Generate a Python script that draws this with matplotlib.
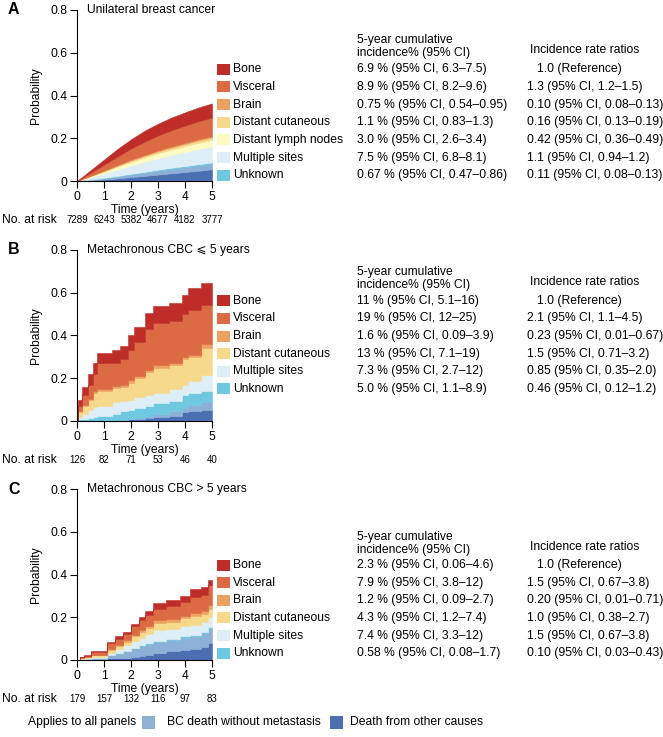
import matplotlib
matplotlib.use("Agg")
import matplotlib.pyplot as plt
import numpy as np
from matplotlib.patches import Rectangle

plt.rcParams["font.family"] = ["Liberation Sans", "DejaVu Sans"]

# ---- data ----
years = [0, 1, 2, 3, 4, 5]
yticks = [0, 0.2, 0.4, 0.6, 0.8]
ytick_labels = ["0", "0.2", "0.4", "0.6", "0.8"]

# Panel A: unilateral BC (smooth cumulative incidence), layer thickness per time
tA = [0, 0.5, 1, 1.5, 2, 2.5, 3, 3.5, 4, 4.5, 5]
A_other = [0, .003, .007, .012, .018, .024, .030, .036, .042, .048, .055]
A_bcdeath = [0, .003, .006, .009, .012, .015, .018, .020, .022, .024, .025]
A_unknown = [0, .001, .002, .003, .004, .004, .005, .006, .006, .007, .007]
A_multiple = [0, .010, .020, .030, .039, .047, .054, .060, .066, .071, .075]
A_lymph = [0, .005, .009, .013, .017, .020, .023, .025, .027, .029, .030]
A_cutaneous = [0, .002, .003, .005, .006, .007, .008, .009, .010, .010, .011]
A_brain = [0, .001, .002, .003, .004, .005, .005, .006, .006, .007, .007]
A_visceral = [0, .013, .027, .040, .052, .062, .070, .076, .080, .084, .087]
A_bone = [0, .012, .024, .035, .043, .051, .055, .059, .062, .064, .066]

# Panel B: metachronous CBC <= 5 years (step functions)
tB = [0, 0.05, 0.2, 0.4, 0.6, 0.75, 1.3, 1.6, 1.9, 2.1, 2.5, 2.8, 3.4, 3.9, 4.1, 4.6, 5.0]
B_other = [0, 0, 0, 0, 0, 0, 0, .005, .008, .01, .015, .02, .025, .04, .045, .05, .05]
B_bcdeath = [0, 0, 0, 0, 0, 0, 0, 0, 0, .005, .01, .015, .02, .02, .03, .04, .04]
B_unknown = [0, .008, .01, .015, .02, .025, .035, .04, .042, .045, .045, .05, .05, .06, .055, .05, .05]
B_multiple = [0, .012, .025, .035, .045, .045, .055, .05, .05, .05, .05, .045, .055, .05, .055, .073, .073]
B_cutaneous = [0, .02, .035, .05, .065, .07, .066, .065, .08, .09, .11, .12, .11, .12, .115, .13, .13]
B_brain = [0, .005, .005, .005, .01, .01, .009, .01, .01, .01, .01, .01, .01, .01, .01, .016, .016]
B_visceral = [0, .025, .045, .065, .08, .12, .105, .12, .14, .16, .19, .20, .20, .20, .21, .185, .185]
B_bone = [0, .03, .04, .05, .05, .05, .06, .06, .07, .07, .075, .08, .08, .09, .10, .10, .10]

# Panel C: metachronous CBC > 5 years (step functions)
tC = [0, 0.1, 0.25, 0.5, 0.9, 1.1, 1.4, 1.7, 2.0, 2.3, 2.5, 2.8, 3.3, 3.8, 4.2, 4.6, 4.85, 5.0]
C_other = [0, 0, 0, 0, 0, .008, .01, .01, .015, .02, .025, .035, .04, .045, .05, .06, .08, .08]
C_bcdeath = [0, .004, .006, .01, .01, .014, .02, .03, .04, .045, .05, .05, .055, .06, .06, .065, .07, .07]
C_unknown = [0, 0, 0, 0, 0, .002, .002, .003, .003, .004, .004, .004, .005, .005, .005, .006, .006, .006]
C_multiple = [0, .002, .004, .006, .006, .01, .018, .025, .032, .036, .041, .05, .045, .05, .05, .045, .047, .047]
C_cutaneous = [0, .002, .003, .006, .006, .012, .015, .018, .02, .025, .03, .035, .035, .035, .04, .037, .037, .037]
C_brain = [0, 0, 0, .002, .002, .005, .005, .006, .008, .01, .01, .012, .012, .013, .015, .015, .015, .015]
C_visceral = [0, .004, .007, .014, .014, .027, .03, .028, .04, .045, .05, .054, .06, .062, .075, .075, .095, .095]
C_bone = [0, .002, .003, .004, .004, .008, .01, .01, .012, .015, .02, .025, .028, .03, .035, .037, .025, .025]

A_risk = [7289, 6243, 5382, 4677, 4182, 3777]
B_risk = [126, 82, 71, 53, 46, 40]
C_risk = [179, 157, 132, 116, 97, 83]

A_sites = ["Bone", "Visceral", "Brain", "Distant cutaneous", "Distant lymph nodes", "Multiple sites", "Unknown"]
A_ci = ["6.9 % (95% CI, 6.3\u20137.5)", "8.9 % (95% CI, 8.2\u20139.6)", "0.75 % (95% CI, 0.54\u20130.95)",
        "1.1 % (95% CI, 0.83\u20131.3)", "3.0 % (95% CI, 2.6\u20133.4)", "7.5 % (95% CI, 6.8\u20138.1)",
        "0.67 % (95% CI, 0.47\u20130.86)"]
A_irr = ["1.0 (Reference)", "1.3 (95% CI, 1.2\u20131.5)", "0.10 (95% CI, 0.08\u20130.13)",
         "0.16 (95% CI, 0.13\u20130.19)", "0.42 (95% CI, 0.36\u20130.49)", "1.1 (95% CI, 0.94\u20131.2)",
         "0.11 (95% CI, 0.08\u20130.13)"]
BC_sites = ["Bone", "Visceral", "Brain", "Distant cutaneous", "Multiple sites", "Unknown"]
B_ci = ["11 % (95% CI, 5.1\u201316)", "19 % (95% CI, 12\u201325)", "1.6 % (95% CI, 0.09\u20133.9)",
        "13 % (95% CI, 7.1\u201319)", "7.3 % (95% CI, 2.7\u201312)", "5.0 % (95% CI, 1.1\u20138.9)"]
B_irr = ["1.0 (Reference)", "2.1 (95% CI, 1.1\u20134.5)", "0.23 (95% CI, 0.01\u20130.67)",
         "1.5 (95% CI, 0.71\u20133.2)", "0.85 (95% CI, 0.35\u20132.0)", "0.46 (95% CI, 0.12\u20131.2)"]
C_ci = ["2.3 % (95% CI, 0.06\u20134.6)", "7.9 % (95% CI, 3.8\u201312)", "1.2 % (95% CI, 0.09\u20132.7)",
        "4.3 % (95% CI, 1.2\u20137.4)", "7.4 % (95% CI, 3.3\u201312)", "0.58 % (95% CI, 0.08\u20131.7)"]
C_irr = ["1.0 (Reference)", "1.5 (95% CI, 0.67\u20133.8)", "0.20 (95% CI, 0.01\u20130.71)",
         "1.0 (95% CI, 0.38\u20132.7)", "1.5 (95% CI, 0.67\u20133.8)", "0.10 (95% CI, 0.03\u20130.43)"]

colors = {"Bone": "#be2d28", "Visceral": "#dc6a42", "Brain": "#eba25f",
          "Distant cutaneous": "#f6d98b", "Distant lymph nodes": "#fdfbc2",
          "Multiple sites": "#deeef6", "Unknown": "#6ec8e0",
          "BC death": "#8db0d7", "Other death": "#4c6eb2"}

# ---- layout helpers (pixel coords, origin top-left) ----
W, H = 663, 737
fig = plt.figure(figsize=(W / 100, H / 100), dpi=100)
FS = 8.7


def fx(x):
    return x / W


def fy(y):
    return 1 - y / H


def txt(x, y, s, **kw):
    kw.setdefault("fontsize", FS)
    fig.text(fx(x), fy(y), s, va="center", **kw)


def square(x, y, c, w=12.5, h=11):
    fig.add_artist(Rectangle((fx(x), fy(y + h / 2)), w / W, h / H,
                             transform=fig.transFigure, color=c, lw=0))


def panel(y0, t, layers, step, letter, title, sites, ci, irr, risk, rows_y, head_y):
    ax = fig.add_axes([fx(77), fy(y0), 135 / W, 171 / H])
    base = np.zeros(len(t))
    for vals, name in layers:
        top = base + np.array(vals)
        ax.fill_between(t, base, top, facecolor=colors[name], edgecolor=colors[name],
                        lw=0.4, step="post" if step else None)
        base = top
    ax.set_xlim(0, 5)
    ax.set_ylim(0, 0.8)
    ax.set_xticks(years)
    ax.set_yticks(yticks, ytick_labels)
    for s in ["top", "right"]:
        ax.spines[s].set_visible(False)
    ax.tick_params(labelsize=FS, length=5, pad=2, direction="out")
    ax.set_xlabel("Time (years)", fontsize=FS, labelpad=1)
    ax.set_ylabel("Probability", fontsize=FS)
    ax.yaxis.set_label_coords(-0.26, 0.5)
    ax.patch.set_alpha(0)

    txt(8, y0 - 171, letter, fontsize=11.5, fontweight="bold")
    txt(87, y0 - 171, title)
    txt(2, y0 + 39, "No. at risk")
    for yr, n in zip(years, risk):
        fig.text(fx(77 + 27 * yr), fy(y0 + 39), str(n), fontsize=7,
                 ha="center", va="center")

    txt(357, head_y - 13, "5-year cumulative")
    txt(357, head_y, "incidence% (95% CI)")
    txt(530, head_y - 3, "Incidence rate ratios")
    for i, name in enumerate(sites):
        yy = rows_y + i * 17.65
        square(217, yy, colors[name])
        txt(233, yy, name)
        txt(357, yy, ci[i])
        txt(537 if i == 0 else 527, yy, irr[i])


panel(181, tA, [(A_other, "Other death"), (A_bcdeath, "BC death"), (A_unknown, "Unknown"),
                (A_multiple, "Multiple sites"), (A_lymph, "Distant lymph nodes"),
                (A_cutaneous, "Distant cutaneous"), (A_brain, "Brain"),
                (A_visceral, "Visceral"), (A_bone, "Bone")],
      False, "A", "Unilateral breast cancer", A_sites, A_ci, A_irr, A_risk, 69.3, 53)

panel(421, tB, [(B_other, "Other death"), (B_bcdeath, "BC death"), (B_unknown, "Unknown"),
                (B_multiple, "Multiple sites"), (B_cutaneous, "Distant cutaneous"),
                (B_brain, "Brain"), (B_visceral, "Visceral"), (B_bone, "Bone")],
      True, "B", "Metachronous CBC \u2a7d 5 years", BC_sites, B_ci, B_irr, B_risk, 300.7, 285)

panel(660, tC, [(C_other, "Other death"), (C_bcdeath, "BC death"), (C_unknown, "Unknown"),
                (C_multiple, "Multiple sites"), (C_cutaneous, "Distant cutaneous"),
                (C_brain, "Brain"), (C_visceral, "Visceral"), (C_bone, "Bone")],
      True, "C", "Metachronous CBC > 5 years", BC_sites, C_ci, C_irr, C_risk, 565, 550)

# shared legend at the bottom
txt(28, 722, "Applies to all panels")
square(142, 722, colors["BC death"], w=12.5, h=13)
txt(167, 722, "BC death without metastasis")
square(330, 722, colors["Other death"], w=12.5, h=13)
txt(350, 722, "Death from other causes")

fig.savefig("out.png", dpi=100)
